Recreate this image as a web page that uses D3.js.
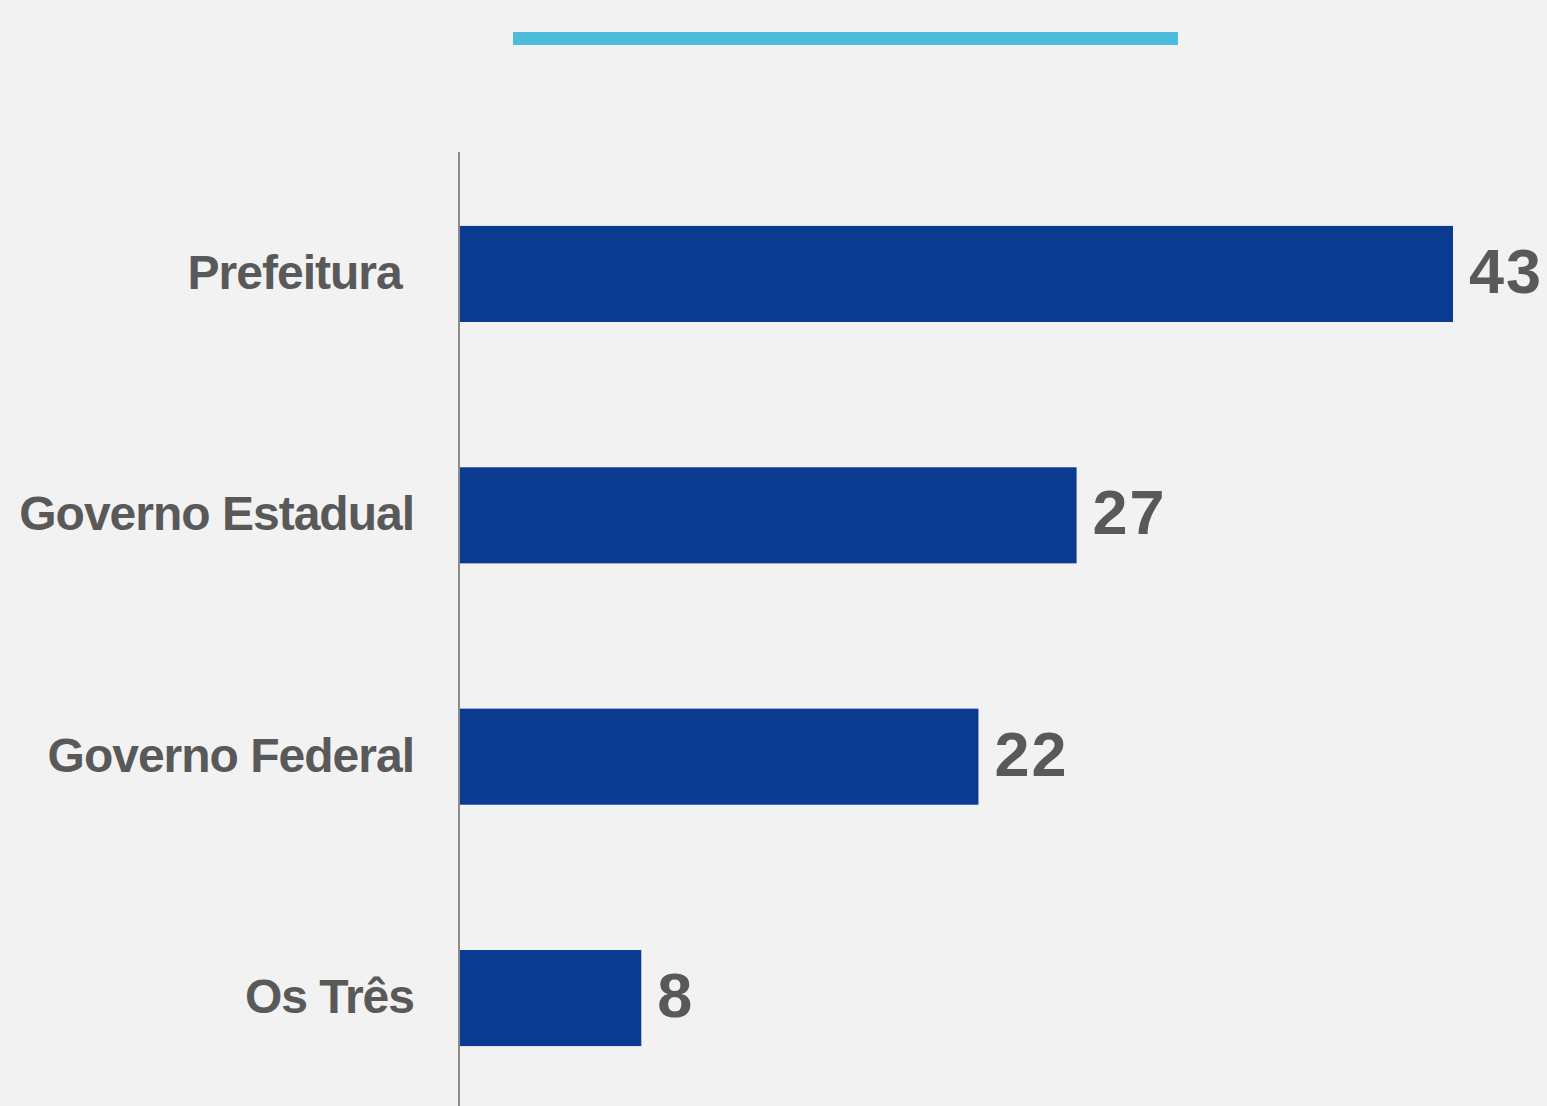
<!DOCTYPE html>
<html>
<head>
<meta charset="utf-8">
<script src="https://cdnjs.cloudflare.com/ajax/libs/d3/7.8.5/d3.min.js"></script>
<style>
  html, body { margin: 0; padding: 0; background: #f2f2f2; }
  svg { display: block; }
</style>
</head>
<body>
<svg id="chart"></svg>
<script>
  // chart data (labels as printed)
  var categories = ["Prefeitura ", "Governo Estadual", "Governo Federal", "Os Três"]
  var values = [43, 26.7, 22.45, 7.85]
  var valueLabels = ["43", "27", "22", "8"]

  var width = 1547
  var height = 1106

  var margin = { top: 152, left: 459, right: 95, bottom: 0 }

  var data = categories.map((c, i) => ({ name: c, value: values[i], label: valueLabels[i] }))

  var svg = d3.select("#chart")
    .attr("width", width)
    .attr("height", height)

  svg.append("rect")
    .attr("width", width)
    .attr("height", height)
    .attr("fill", "#f2f2f2")

  // cyan rule at the top
  svg.append("rect")
    .attr("x", 513)
    .attr("y", 32)
    .attr("width", 665)
    .attr("height", 13)
    .attr("fill", "#4bbcdc")

  var xScale = d3.scaleLinear()
    .domain([0, 43])
    .range([margin.left + 1, 1453])

  var yScale = d3.scaleBand()
    .domain(categories)
    .range([153.5, 1118.5])
    .paddingInner(0.602)
    .paddingOuter(0.3)

  var g = svg.append("g")

  g.selectAll(".bar")
    .data(data)
    .enter()
    .append("rect")
    .attr("class", "bar")
    .attr("x", xScale(0))
    .attr("y", d => yScale(d.name))
    .attr("width", d => xScale(d.value) - xScale(0))
    .attr("height", yScale.bandwidth())
    .attr("fill", "#0b3a91")

  // vertical axis line
  g.append("line")
    .attr("x1", margin.left)
    .attr("x2", margin.left)
    .attr("y1", margin.top)
    .attr("y2", height)
    .attr("stroke", "#8c8c8c")
    .attr("stroke-width", 2)

  g.selectAll(".cat")
    .data(data)
    .enter()
    .append("text")
    .attr("class", "cat")
    .attr("x", 414)
    .attr("y", d => yScale(d.name) + yScale.bandwidth() / 2 + 15)
    .attr("text-anchor", "end")
    .style("white-space", "pre")
    .attr("font-family", "Liberation Sans, Arial, sans-serif")
    .attr("font-weight", "bold")
    .attr("font-size", 48)
    .attr("letter-spacing", -1)
    .attr("fill", "#595959")
    .text(d => d.name)

  g.selectAll(".val")
    .data(data)
    .enter()
    .append("text")
    .attr("class", "val")
    .attr("x", d => xScale(d.value) + 16)
    .attr("y", d => yScale(d.name) + yScale.bandwidth() / 2 + 19)
    .attr("font-family", "Liberation Sans, Arial, sans-serif")
    .attr("font-weight", "bold")
    .attr("font-size", 63)
    .attr("letter-spacing", 2)
    .attr("fill", "#595959")
    .text(d => d.label)
</script>
</body>
</html>
